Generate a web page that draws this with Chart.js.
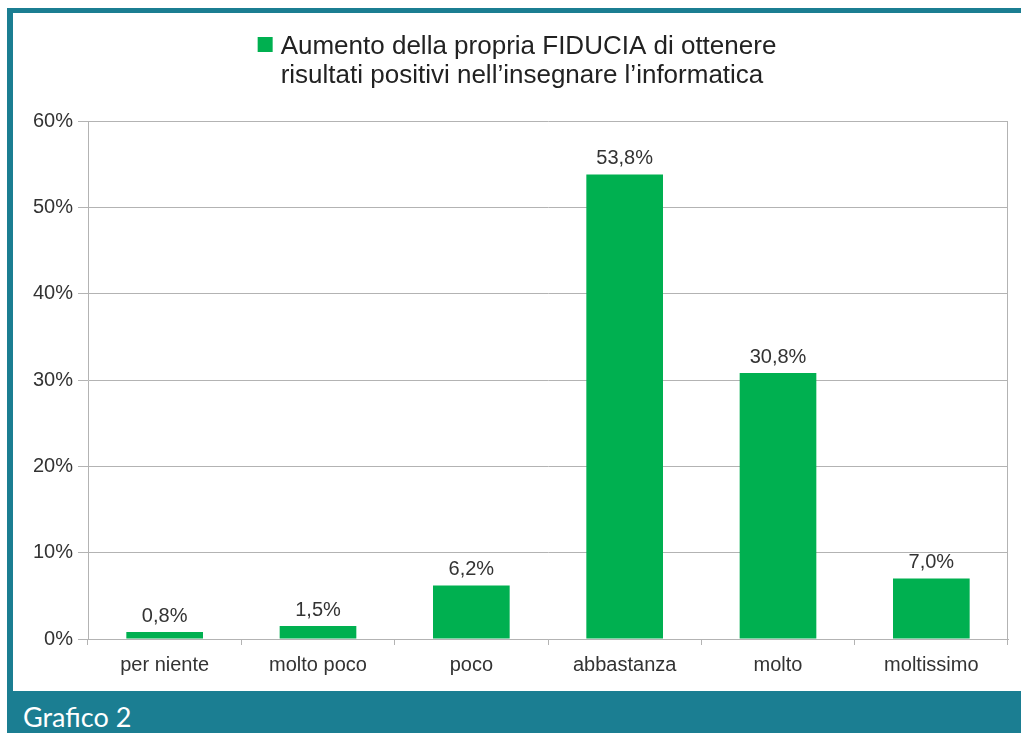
<!DOCTYPE html>
<html lang="it">

<head>
  <meta charset="UTF-8" />
  <title>Grafico 2</title>
  <script src="https://cdn.jsdelivr.net/npm/chart.js"></script>
  <style>
    body { margin: 0; background: #fff; }
    .frame-top { position: absolute; left: 7px; top: 8px; width: 1014px; height: 5px; background: #1b7e92; }
    .frame-left { position: absolute; left: 7px; top: 8px; width: 6px; height: 683px; background: #1b7e92; }
    .chart-box { position: absolute; left: 13px; top: 13px; width: 1008px; height: 678px; }
    .footer {
      position: absolute; left: 7px; top: 691px; width: 1014px; height: 42px;
      background: #1b7e92; color: #fff; font: 27px Lato, sans-serif;
      box-sizing: border-box; padding-left: 16px; line-height: 52px;
      overflow: hidden;
    }
  </style>
</head>

<body>
<div class="frame-top"></div>
<div class="frame-left"></div>
<div class="chart-box"><canvas id="chart"></canvas></div>
<div class="footer">Grafico 2</div>
<script>
  // data
  const categories = ['per niente', 'molto poco', 'poco', 'abbastanza', 'molto', 'moltissimo'];
  const percentages = [0.8, 1.5, 6.2, 53.8, 30.8, 7.0];
  const seriesLabel = ['Aumento della propria FIDUCIA di ottenere', 'risultati positivi nell\u2019insegnare l\u2019informatica'];
  const yTicks = [0, 10, 20, 30, 40, 50, 60];

  const green = '#00b050';
  const gridGray = '#b3b3b3';
  const textColor = '#333';

  const fmt = v => v.toFixed(1).replace('.', ',') + '%';

  // two-line legend on top, centred
  const legendTop = {
    id: 'legendTop',
    afterDraw(chart) {
      const ctx = chart.ctx;
      const lines = chart.data.datasets[0].label;
      ctx.save();
      ctx.font = '26px "Liberation Sans", Arial, sans-serif';
      const w = Math.max(...lines.map(l => ctx.measureText(l).width));
      const box = 15, gap = 8;
      const x0 = (chart.width - (box + gap + w)) / 2;
      ctx.fillStyle = green;
      ctx.fillRect(x0, 24, box, box);
      ctx.fillStyle = '#222';
      ctx.textBaseline = 'alphabetic';
      lines.forEach((l, i) => ctx.fillText(l, x0 + box + gap, 41 + i * 29));
      ctx.restore();
    }
  };

  // value labels above the bars
  const barValues = {
    id: 'barValues',
    afterDatasetsDraw(chart) {
      const ctx = chart.ctx;
      const meta = chart.getDatasetMeta(0);
      ctx.save();
      ctx.font = '20px "Liberation Sans", Arial, sans-serif';
      ctx.fillStyle = textColor;
      ctx.textAlign = 'center';
      ctx.textBaseline = 'bottom';
      meta.data.forEach((bar, i) => {
        ctx.fillText(fmt(chart.data.datasets[0].data[i]), bar.x, bar.y - 6);
      });
      ctx.restore();
    }
  };

  new Chart(document.getElementById('chart'), {
    type: 'bar',
    data: {
      labels: categories,
      datasets: [{
        label: seriesLabel,
        data: percentages,
        backgroundColor: green,
        borderWidth: 0,
        categoryPercentage: 1,
        barPercentage: 0.5
      }]
    },
    options: {
      responsive: true,
      maintainAspectRatio: false,
      animation: false,
      layout: { padding: { top: 108, right: 13, left: 0, bottom: 0 } },
      plugins: {
        legend: { display: false },
        tooltip: { enabled: false }
      },
      scales: {
        x: {
          afterFit: s => { s.height = 52; },
          grid: {
            offset: true,
            color: c => (c.tick ? 'transparent' : gridGray),
            tickColor: gridGray,
            tickLength: 6
          },
          border: { color: gridGray },
          ticks: {
            color: textColor,
            padding: 8,
            font: { family: '"Liberation Sans", Arial, sans-serif', size: 20 }
          }
        },
        y: {
          min: yTicks[0],
          max: yTicks[yTicks.length - 1],
          afterFit: s => { s.width = 75; },
          afterBuildTicks: s => { s.ticks = yTicks.map(v => ({ value: v })); },
          grid: { color: gridGray, tickColor: gridGray, tickLength: 10 },
          border: { color: gridGray },
          ticks: {
            color: textColor,
            padding: 5,
            font: { family: '"Liberation Sans", Arial, sans-serif', size: 20 },
            callback: v => v + '%'
          }
        }
      }
    },
    plugins: [legendTop, barValues]
  });
</script>
</body>

</html>
